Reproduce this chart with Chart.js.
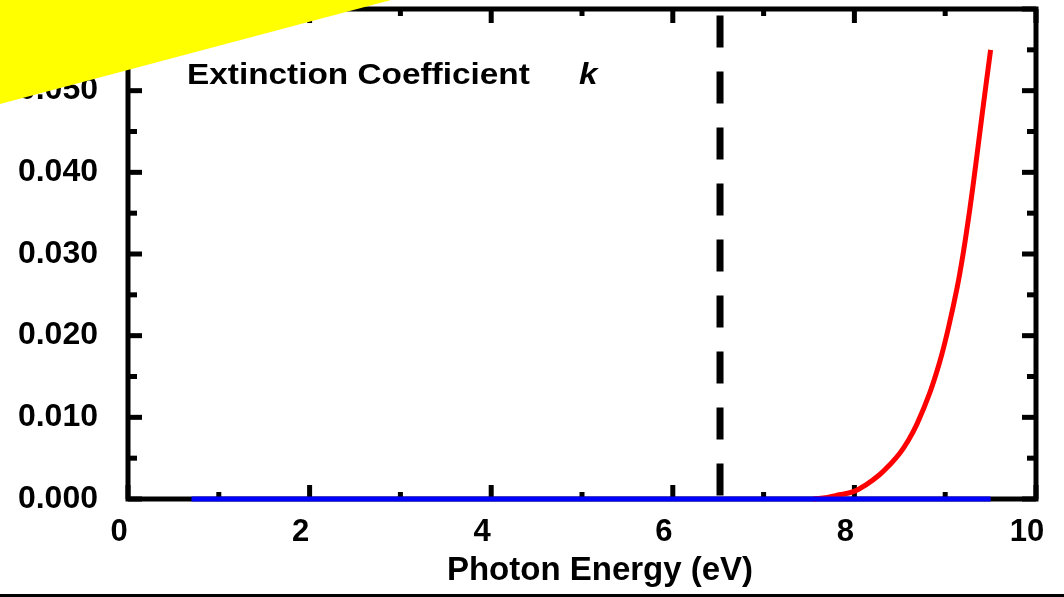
<!DOCTYPE html>
<html><head><meta charset="utf-8">
<script src="https://cdn.jsdelivr.net/npm/chart.js@4.4.1/dist/chart.umd.min.js"></script>
<style>html,body{margin:0;padding:0;background:#fff;overflow:hidden}canvas{display:block}</style>
</head><body>
<canvas id="c" width="1064" height="597"></canvas>
<script>
// ---- data ----
const photonEnergyRed = [7.55, 7.70, 7.80, 7.99, 8.135, 8.28, 8.39, 8.50, 8.595, 8.69, 8.83, 8.94, 9.03, 9.13, 9.20, 9.27, 9.335, 9.40, 9.50];
const kRed            = [0, 0.0002, 0.00045, 0.0009, 0.0018, 0.0030, 0.0042, 0.0056, 0.0072, 0.0092, 0.0130, 0.0168, 0.0207, 0.0258, 0.0302, 0.0354, 0.0408, 0.0465, 0.0550];
const photonEnergyBlue = [0.70, 9.50];
const kBlue            = [0, 0];
const bandEdgeEnergy = [6.52, 6.52];
const bandEdgeK      = [0.0592, 0];
const xTickValues = [0, 2, 4, 6, 8, 10];
const xTickLabels = ['0', '2', '4', '6', '8', '10'];
const xMinorTicks = [1, 3, 5, 7, 9];
const yTickValues = [0, 0.01, 0.02, 0.03, 0.04, 0.05];
const yTickLabels = ['0.000', '0.010', '0.020', '0.030', '0.040', '0.050'];
const yMajorMarks = [0, 0.01, 0.02, 0.03, 0.04, 0.05, 0.06];
const yMinorTicks = [0.005, 0.015, 0.025, 0.035, 0.045, 0.055];
const xTitle = 'Photon Energy (eV)';
const annotationText = 'Extinction Coefficient';
const annotationSymbol = 'k';

const FONT = '"Liberation Sans", Arial, sans-serif';
const pts = (xs, ys) => xs.map((v, i) => ({x: v, y: ys[i]}));

const framePlugin = {
  id: 'frame',
  beforeDatasetsDraw(chart) {
    const {ctx, chartArea: a, scales: {x, y}} = chart;
    ctx.save();
    ctx.strokeStyle = '#000';
    ctx.fillStyle = '#000';
    ctx.lineWidth = 5;
    ctx.lineJoin = 'miter';
    ctx.strokeRect(a.left, a.top, a.right - a.left, a.bottom - a.top);
    const xt = (v, len) => {
      const p = x.getPixelForValue(v);
      ctx.fillRect(p - 2.5, a.bottom - len, 5, len);
      ctx.fillRect(p - 2.5, a.top, 5, len);
    };
    const yt = (v, len) => {
      const p = y.getPixelForValue(v);
      ctx.fillRect(a.left, p - 2.5, len, 5);
      ctx.fillRect(a.right - len, p - 2.5, len, 5);
    };
    xTickValues.forEach(v => xt(v, 14));
    xMinorTicks.forEach(v => xt(v, 7));
    yMajorMarks.forEach(v => yt(v, 14));
    yMinorTicks.forEach(v => yt(v, 9));
    ctx.restore();
  },
  afterDraw(chart) {
    const {ctx} = chart;
    ctx.save();
    ctx.fillStyle = '#000';
    ctx.textBaseline = 'alphabetic';
    ctx.textAlign = 'left';
    ctx.save();
    ctx.translate(187, 84);
    ctx.scale(1.15, 1);
    ctx.font = 'bold 29px ' + FONT;
    ctx.fillText(annotationText, 0, 0);
    ctx.restore();
    ctx.save();
    ctx.translate(579, 84);
    ctx.scale(1.15, 1);
    ctx.font = 'italic bold 29px ' + FONT;
    ctx.fillText(annotationSymbol, 0, 0);
    ctx.restore();
    ctx.font = 'bold 33px ' + FONT;
    ctx.textAlign = 'center';
    ctx.fillText(xTitle, 600, 580);
    ctx.fillRect(0, 594, chart.width, 3);
    ctx.fillStyle = '#ffff00';
    ctx.beginPath();
    ctx.moveTo(0, 0);
    ctx.lineTo(391, 0);
    ctx.lineTo(0, 104);
    ctx.closePath();
    ctx.fill();
    ctx.restore();
  }
};

new Chart(document.getElementById('c'), {
  type: 'line',
  data: {
    datasets: [
      {data: pts(photonEnergyBlue, kBlue), borderColor: '#0000ff', borderWidth: 5, pointRadius: 0, clip: false, borderCapStyle: 'butt'},
      {data: pts(photonEnergyRed, kRed), borderColor: '#ff0000', borderWidth: 5, pointRadius: 0, clip: false, tension: 0.4, borderCapStyle: 'butt'},
      {data: pts(bandEdgeEnergy, bandEdgeK), borderColor: '#000000', borderWidth: 7, borderDash: [32, 24], pointRadius: 0, clip: false, borderCapStyle: 'butt'}
    ]
  },
  options: {
    responsive: false,
    animation: false,
    events: [],
    layout: {padding: {top: 9, right: 28, left: 0, bottom: 0}},
    plugins: {legend: {display: false}, tooltip: {enabled: false}},
    scales: {
      x: {
        type: 'linear', min: 0, max: 10,
        grid: {display: false, drawTicks: false},
        border: {display: false},
        afterBuildTicks: s => { s.ticks = xTickValues.map(v => ({value: v})); },
        afterFit: s => { s.height = 98; s.paddingLeft = 0; s.paddingRight = 0; },
        ticks: {
          callback: v => xTickLabels[xTickValues.indexOf(v)],
          font: {family: FONT, size: 31, weight: 'bold'},
          color: '#000', padding: 15, labelOffset: -9, maxRotation: 0, autoSkip: false
        }
      },
      y: {
        type: 'linear', min: 0, max: 0.06,
        grid: {display: false, drawTicks: false},
        border: {display: false},
        afterBuildTicks: s => { s.ticks = yTickValues.map(v => ({value: v})); },
        afterFit: s => { s.width = 128; s.paddingTop = 0; s.paddingBottom = 0; },
        ticks: {
          callback: v => yTickLabels[yTickValues.findIndex(t => Math.abs(t - v) < 1e-9)],
          font: {family: FONT, size: 32, weight: 'bold'},
          color: '#000', padding: 30, autoSkip: false
        }
      }
    }
  },
  plugins: [framePlugin]
});
</script>
</body></html>
